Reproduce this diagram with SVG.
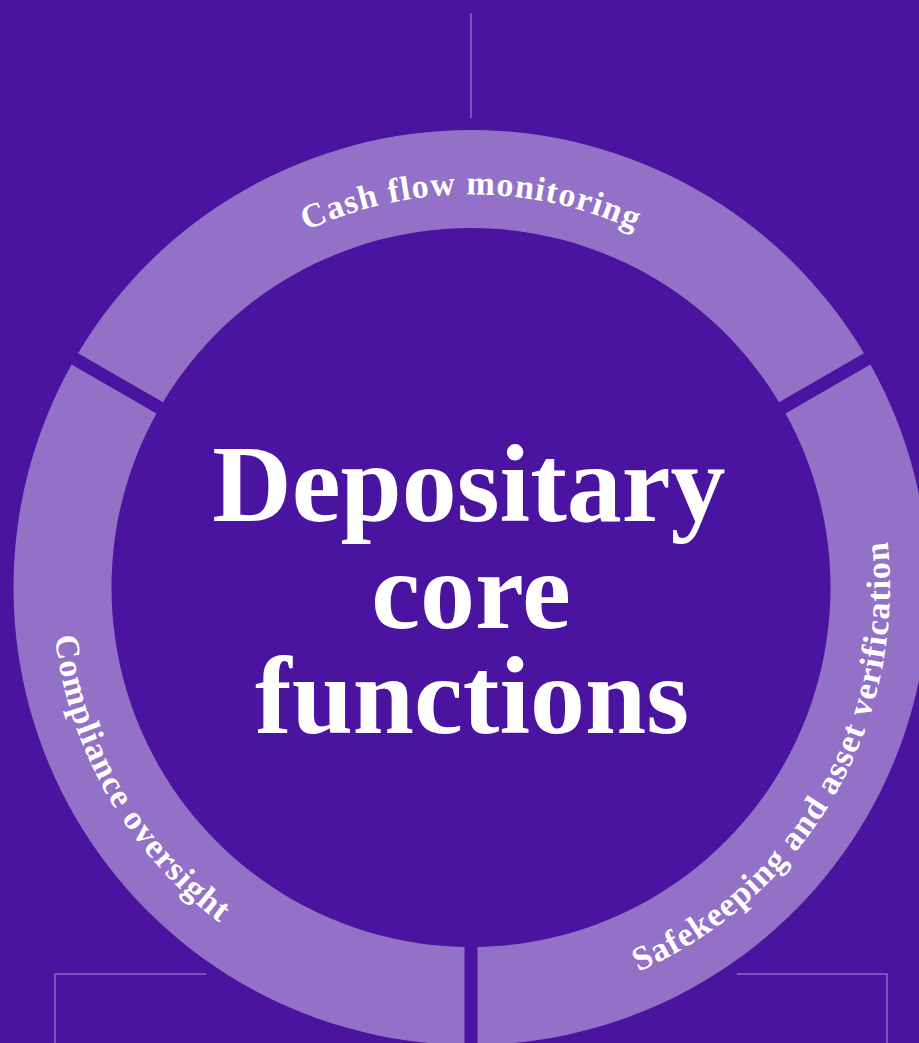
<svg xmlns="http://www.w3.org/2000/svg" width="919" height="1043" viewBox="0 0 919 1043">
  <style>
    .bg { fill: #4A13A0; }
    .seg { fill: #9371C6; }
    .conn { fill: none; stroke: #7853C0; stroke-width: 2; }
    .arc-label { font-family: "Liberation Serif", "Times New Roman", serif; font-weight: bold; font-size: 34px; fill: #FFFFFF; letter-spacing: 1.2px; }
    .title { font-family: "Liberation Serif", "Times New Roman", serif; font-weight: bold; font-size: 110px; fill: #FFFFFF; text-anchor: middle; }
  </style>
  <defs>
    <path id="p-top" d="M 130.652 391 A 393 393 0 0 1 811.348 391"/>
    <path id="p-left" d="M 108.136 378 A 419 419 0 0 0 471 1006.5"/>
    <path id="p-right" d="M 471 1006.5 A 419 419 0 0 0 833.864 378"/>
  </defs>
  <rect class="bg" x="0" y="0" width="919" height="1043"/>

  <g id="connectors">
    <path class="conn" d="M 471 13 V 118"/>
    <path class="conn" d="M 55 1043 V 974 H 206"/>
    <path class="conn" d="M 737 974 H 887 V 1043"/>
  </g>

  <g id="node-cash-flow">
    <path class="seg" d="M 78.083 353.144 A 457.5 457.5 0 0 1 863.917 353.144 L 779.035 402.150 A 359.5 359.5 0 0 0 162.965 402.150 Z"/>
    <text class="arc-label"><textPath href="#p-top" startOffset="50%" text-anchor="middle">Cash flow monitoring</textPath></text>
  </g>

  <g id="node-safekeeping">
    <path class="seg" d="M 870.417 364.402 A 457.5 457.5 0 0 1 477.5 1044.954 L 477.5 946.941 A 359.5 359.5 0 0 0 785.535 413.409 Z"/>
    <text class="arc-label"><textPath href="#p-right" startOffset="50%" text-anchor="middle">Safekeeping and asset verification</textPath></text>
  </g>

  <g id="node-compliance">
    <path class="seg" d="M 464.5 1044.954 A 457.5 457.5 0 0 1 71.583 364.402 L 156.465 413.409 A 359.5 359.5 0 0 0 464.5 946.941 Z"/>
    <text class="arc-label"><textPath href="#p-left" startOffset="50%" text-anchor="middle">Compliance oversight</textPath></text>
  </g>

  <g id="node-center">
    <text class="title" x="469" y="521"><tspan x="469" y="521">Depositary</tspan><tspan x="471" y="628">core</tspan><tspan x="472" y="733">functions</tspan></text>
  </g>
</svg>
